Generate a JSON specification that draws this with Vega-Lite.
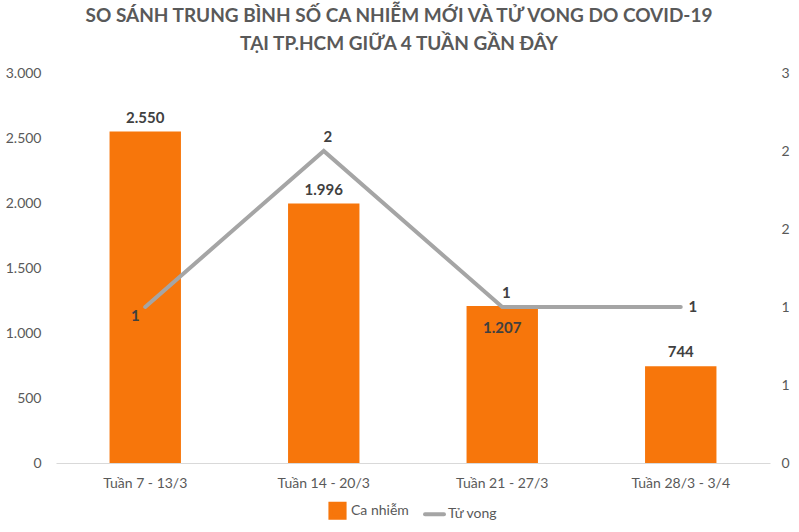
{
  "$schema": "https://vega.github.io/schema/vega-lite/v6.json",
  "width": 714,
  "height": 390,
  "autosize": "none",
  "padding": {"left": 56, "top": 73, "right": 29, "bottom": 69},
  "config": {
    "locale": {"number": {"decimal": ",", "thousands": ".", "grouping": [3], "currency": ["", "₫"]}},
    "view": {"stroke": null},
    "font": "Lato",
    "legend": {"layout": {"bottom": {"anchor": "middle"}}}
  },
  "title": {
    "text": ["SO SÁNH TRUNG BÌNH SỐ CA NHIỄM MỚI VÀ TỬ VONG DO COVID-19", "TẠI TP.HCM GIỮA 4 TUẦN GẦN ĐÂY"],
    "fontSize": 19,
    "fontWeight": "bold",
    "color": "#595959",
    "anchor": "middle",
    "dx": -14,
    "offset": 12,
    "lineHeight": 28
  },
  "data": {
    "values": [
      {"week": "Tuần 7 - 13/3", "cases": 2550, "deaths": 1.2},
      {"week": "Tuần 14 - 20/3", "cases": 1996, "deaths": 2.4},
      {"week": "Tuần 21 - 27/3", "cases": 1207, "deaths": 1.2},
      {"week": "Tuần 28/3 - 3/4", "cases": 744, "deaths": 1.2}
    ]
  },
  "encoding": {
    "x": {
      "field": "week",
      "type": "nominal",
      "sort": null,
      "title": null,
      "scale": {"paddingInner": 0.6, "paddingOuter": 0.3},
      "axis": {
        "labelAngle": 0,
        "ticks": false,
        "domainColor": "#d9d9d9",
        "domainWidth": 1,
        "labelColor": "#595959",
        "labelFontSize": 14,
        "labelPadding": 13,
        "grid": false
      }
    }
  },
  "layer": [
    {
      "encoding": {
        "y": {
          "field": "cases",
          "type": "quantitative",
          "title": null,
          "scale": {"domain": [0, 3000]},
          "axis": {
            "orient": "left",
            "values": [0, 500, 1000, 1500, 2000, 2500, 3000],
            "format": ",.0f",
            "grid": false,
            "ticks": false,
            "domain": false,
            "labelColor": "#595959",
            "labelFontSize": 14,
            "labelPadding": 15
          }
        }
      },
      "layer": [
        {
          "mark": {"type": "bar", "color": "#F7760B"},
          "encoding": {"color": {"datum": "Ca nhiễm", "type": "nominal", "scale": {"domain": ["Ca nhiễm", "Tử vong"], "range": ["#F7760B", "#A5A5A5"]}, "legend": {
            "orient": "bottom",
            "direction": "horizontal",
            "title": null,
            "labelColor": "#595959",
            "labelFontSize": 14,
            "columnPadding": 8,
            "symbolOffset": 0,
            "offset": 11,
            "encode": {
              "symbols": {
                "update": {
                  "shape": {"signal": "datum.value === 'Tử vong' ? 'stroke' : 'square'"},
                  "stroke": {"signal": "datum.value === 'Tử vong' ? '#A5A5A5' : 'transparent'"},
                  "strokeWidth": {"value": 4},
                  "strokeCap": {"value": "round"},
                  "fill": {"signal": "datum.value === 'Tử vong' ? 'transparent' : '#F7760B'"},
                  "size": {"signal": "datum.value === 'Tử vong' ? 360 : 200"},
                  "opacity": {"value": 1}
                }
              }
            }
          }}}
        },
        {
          "transform": [{"filter": "datum.week !== 'Tuần 21 - 27/3'"}],
          "mark": {"type": "text", "fontWeight": "bold", "fontSize": 15, "color": "#404040", "dy": -14},
          "encoding": {"text": {"field": "cases", "type": "quantitative", "format": ",.0f"}}
        },
        {
          "transform": [{"filter": "datum.week === 'Tuần 21 - 27/3'"}],
          "mark": {"type": "text", "fontWeight": "bold", "fontSize": 15, "color": "#404040", "dy": 22},
          "encoding": {"text": {"field": "cases", "type": "quantitative", "format": ",.0f"}}
        }
      ]
    },
    {
      "encoding": {
        "y": {
          "field": "deaths",
          "type": "quantitative",
          "title": null,
          "scale": {"domain": [0, 3]},
          "axis": {
            "orient": "right",
            "values": [0, 0.6, 1.2, 1.8, 2.4, 3],
            "format": ".0f",
            "grid": false,
            "ticks": false,
            "domain": false,
            "labelColor": "#595959",
            "labelFontSize": 14,
            "labelPadding": 11
          }
        }
      },
      "layer": [
        {
          "mark": {"type": "line", "strokeWidth": 4, "strokeCap": "round", "strokeJoin": "miter"},
          "encoding": {"color": {"datum": "Tử vong", "type": "nominal"}}
        },
        {
          "transform": [{"filter": "datum.week === 'Tuần 7 - 13/3'"}],
          "mark": {"type": "text", "fontWeight": "bold", "fontSize": 15, "color": "#404040", "dx": -10, "dy": 9},
          "encoding": {"text": {"field": "deaths", "type": "quantitative", "format": ".0f"}}
        },
        {
          "transform": [{"filter": "datum.week === 'Tuần 14 - 20/3' || datum.week === 'Tuần 21 - 27/3'"}],
          "mark": {"type": "text", "fontWeight": "bold", "fontSize": 15, "color": "#404040", "dx": 4, "dy": -14},
          "encoding": {"text": {"field": "deaths", "type": "quantitative", "format": ".0f"}}
        },
        {
          "transform": [{"filter": "datum.week === 'Tuần 28/3 - 3/4'"}],
          "mark": {"type": "text", "fontWeight": "bold", "fontSize": 15, "color": "#404040", "dx": 12, "dy": 0},
          "encoding": {"text": {"field": "deaths", "type": "quantitative", "format": ".0f"}}
        }
      ]
    }
  ],
  "resolve": {"scale": {"y": "independent"}}
}
